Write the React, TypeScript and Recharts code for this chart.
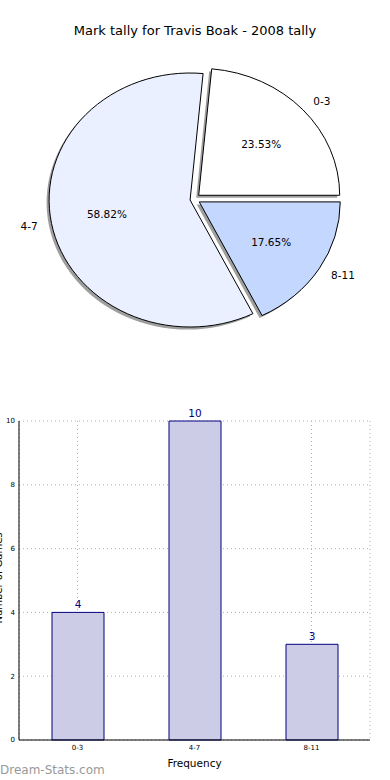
import React from 'react';
import { PieChart, Pie, BarChart, Bar, XAxis, YAxis, CartesianGrid, LabelList } from 'recharts';

const categories = ['0-3', '4-7', '8-11'];
const tallies = [4, 10, 3];
const sliceColors = ['#ffffff', '#eaf0ff', '#c4d7ff'];
const yTicks = [0, 2, 4, 6, 8, 10];

const titleText = 'Mark tally for Travis Boak - 2008 tally';
const xLabel = 'Frequency';
const yLabel = 'Number of Games';
const watermark = 'Dream-Stats.com';

const pieData = categories.map((name, i) => ({ name, value: tallies[i], fill: sliceColors[i] }));
const barData = categories.map((name, i) => ({ name, value: tallies[i] }));

const FONT = 'DejaVu Sans, sans-serif';
const X_STRETCH = 141 / 127;
const EXPLODE_X = 5;
const EXPLODE_Y = 5.5;
const RAD = Math.PI / 180;

function explodedCenter(cx: number, cy: number, mid: number) {
  return [cx + EXPLODE_X * Math.cos(mid * RAD), cy - EXPLODE_Y * Math.sin(mid * RAD)];
}

function SliceShape(props: any) {
  const { cx, cy, startAngle, endAngle, outerRadius, fill } = props;
  const mid = (startAngle + endAngle) / 2;
  const [ex, ey] = explodedCenter(cx, cy, mid);
  const rx = outerRadius * X_STRETCH;
  const ry = outerRadius;
  const p1x = ex + rx * Math.cos(startAngle * RAD);
  const p1y = ey - ry * Math.sin(startAngle * RAD);
  const p2x = ex + rx * Math.cos(endAngle * RAD);
  const p2y = ey - ry * Math.sin(endAngle * RAD);
  const large = Math.abs(endAngle - startAngle) > 180 ? 1 : 0;
  const d = `M ${ex} ${ey} L ${p1x} ${p1y} A ${rx} ${ry} 0 ${large} 0 ${p2x} ${p2y} Z`;
  return (
    <g>
      <path d={d} transform="translate(-2.5, 2.5)" fill="#000" fillOpacity={0.38} stroke="none" />
      <path d={d} fill={fill} stroke="#000" strokeWidth={1} />
    </g>
  );
}

function renderPieLabel(props: any) {
  const { cx, cy, midAngle, outerRadius, percent, name } = props;
  const [ex, ey] = explodedCenter(cx, cy, midAngle);
  const c = Math.cos(midAngle * RAD);
  const s = Math.sin(midAngle * RAD);
  const rx = outerRadius * X_STRETCH;
  const ry = outerRadius;
  const lx = ex + 1.1 * rx * c;
  const ly = ey - 1.1 * ry * s;
  const px = ex + 0.6 * rx * c;
  const py = ey - 0.6 * ry * s;
  return (
    <g>
      <text x={lx} y={ly} textAnchor={c >= 0 ? 'start' : 'end'} dominantBaseline="central" fontSize={10.5} fontFamily={FONT} fill="#000">{name}</text>
      <text x={px} y={py} textAnchor="middle" dominantBaseline="central" fontSize={10.5} fontFamily={FONT} fill="#000">{(percent * 100).toFixed(2) + '%'}</text>
    </g>
  );
}

export default function App() {
  return (
    <div style={{ position: 'absolute', left: 0, top: 0, width: 390, height: 780, background: '#fff', fontFamily: FONT, overflow: 'hidden' }}>
      <div style={{ position: 'absolute', left: 0, top: 0 }}>
        <PieChart width={390} height={380} margin={{ top: 0, right: 0, bottom: 0, left: 0 }}>
          <Pie
            data={pieData}
            dataKey="value"
            nameKey="name"
            cx={195}
            cy={199}
            outerRadius={127}
            startAngle={0}
            endAngle={360}
            shape={SliceShape}
            activeShape={SliceShape}
            inactiveShape={SliceShape}
            label={renderPieLabel}
            labelLine={false}
            isAnimationActive={false}
            stroke="#000"
          />
        </PieChart>
      </div>
      <div style={{ position: 'absolute', left: 0, top: 380 }}>
        <BarChart width={390} height={400} data={barData} margin={{ top: 41, right: 20, left: 0, bottom: 0 }}>
          <CartesianGrid stroke="#b0b0b0" strokeDasharray="1 3" />
          <XAxis
            dataKey="name"
            height={40}
            tickSize={0}
            tickMargin={5}
            tickLine={false}
            tick={{ fontSize: 7, fill: '#000', fontFamily: FONT }}
            axisLine={{ stroke: '#000' }}
            label={{ value: xLabel, position: 'insideBottom', offset: 13, fontSize: 10.5, fill: '#000', fontFamily: FONT }}
          />
          <XAxis xAxisId="top" dataKey="name" orientation="top" height={0} tick={false} tickLine={false} axisLine={{ stroke: '#000' }} />
          <YAxis
            domain={[0, 10]}
            ticks={yTicks}
            width={19}
            tickSize={0}
            tickMargin={4}
            tickLine={false}
            tick={{ fontSize: 7, fill: '#000', fontFamily: FONT }}
            axisLine={{ stroke: '#000' }}
          />
          <YAxis yAxisId="right" orientation="right" domain={[0, 10]} ticks={yTicks} width={0} tick={false} tickLine={false} axisLine={{ stroke: '#000' }} />
          <Bar dataKey="value" fill="#ccccE6" stroke="#000080" strokeWidth={1} barSize={52} isAnimationActive={false}>
            <LabelList dataKey="value" position="top" offset={4} fill="#000080" fontSize={10.5} fontFamily={FONT} />
          </Bar>
        </BarChart>
      </div>
      <svg width={390} height={780} style={{ position: 'absolute', left: 0, top: 0, pointerEvents: 'none' }}>
        <text x={195} y={30} textAnchor="middle" dominantBaseline="central" fontSize={13} fontFamily={FONT} fill="#000">{titleText}</text>
        <text x={1.5} y={578} textAnchor="middle" transform="rotate(-90, 1.5, 578)" fontSize={10} fontFamily={FONT} fill="#000">{yLabel}</text>
        <text x={0} y={770} dominantBaseline="central" fontSize={12} fontFamily={FONT} fill="#999">{watermark}</text>
      </svg>
    </div>
  );
}
